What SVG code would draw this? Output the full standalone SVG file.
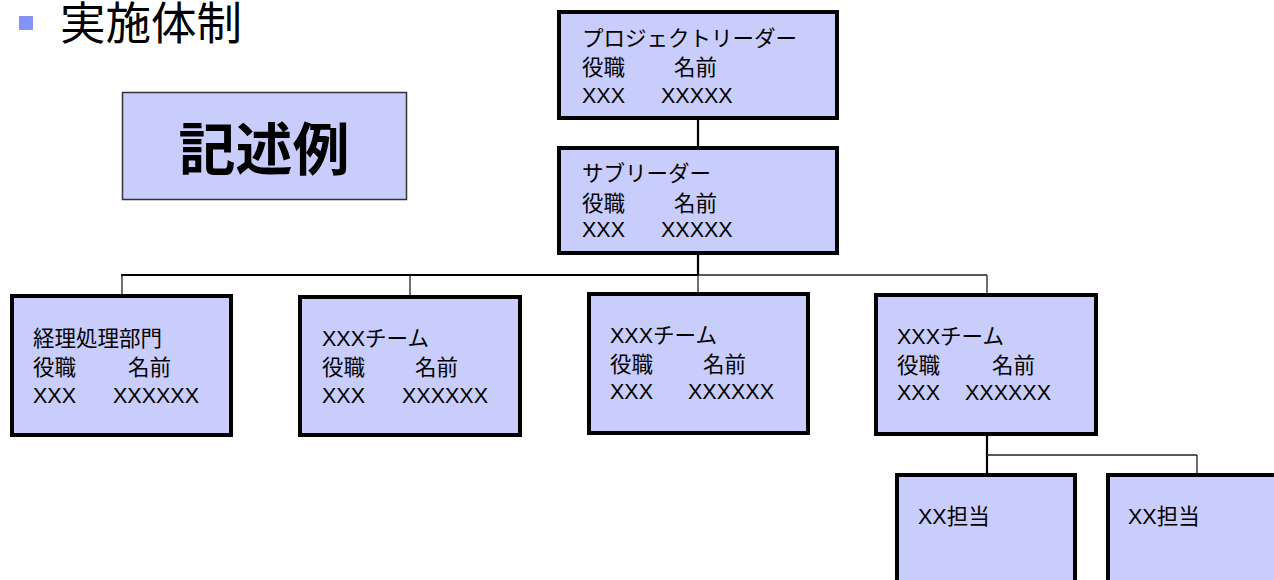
<svg xmlns="http://www.w3.org/2000/svg" width="1274" height="580" viewBox="0 0 1274 580">
<style>
.box{fill:#C9CDFB;stroke:#000;stroke-width:4}
.t{font-family:"Liberation Sans","Noto Sans CJK JP",sans-serif;font-size:21.5px;fill:#000}
.thick{stroke:#000;stroke-width:2.2;fill:none}
.thin{stroke:#222;stroke-width:1.3;fill:none}
</style>
<rect width="1274" height="580" fill="#fff"/>
<g id="header">
<rect x="19" y="16" width="14" height="14" fill="#8394F8"/>
<text x="60" y="40" font-family="'Liberation Sans','Noto Sans CJK JP',sans-serif" font-size="45.5" fill="#000">実施体制</text>
</g>
<g id="example">
<rect x="122.5" y="92.5" width="284" height="107" fill="#C9CDFB" stroke="#333" stroke-width="1.5"/>
<text x="264" y="170" text-anchor="middle" font-family="'Noto Sans CJK JP',sans-serif" font-weight="bold" font-size="57" fill="#000">記述例</text>
</g>
<g id="connectors">
<line class="thick" x1="698" y1="120" x2="698" y2="146"/>
<line class="thick" x1="698" y1="255" x2="698" y2="275"/>
<line class="thick" x1="121" y1="275" x2="698" y2="275"/>
<line class="thin" x1="698" y1="275" x2="987" y2="275"/>
<line class="thin" x1="122" y1="275" x2="122" y2="295"/>
<line class="thin" x1="410" y1="275" x2="410" y2="295"/>
<line class="thin" x1="698" y1="275" x2="698" y2="292"/>
<line class="thin" x1="987" y1="275" x2="987" y2="293"/>
<line class="thick" x1="987" y1="436" x2="987" y2="473"/>
<line class="thin" x1="987" y1="455" x2="1197" y2="455"/>
<line class="thin" x1="1197" y1="455" x2="1197" y2="473"/>
</g>
<g id="project-leader">
<rect class="box" x="559" y="12" width="278" height="106"/>
<text class="t" x="582" y="46">プロジェクトリーダー</text>
<text class="t" x="582" y="75">役職<tspan x="674">名前</tspan></text>
<text class="t" x="582" y="103">XXX<tspan x="661">XXXXX</tspan></text>
</g>
<g id="sub-leader">
<rect class="box" x="559" y="148" width="278" height="105"/>
<text class="t" x="582" y="181">サブリーダー</text>
<text class="t" x="582" y="211">役職<tspan x="674">名前</tspan></text>
<text class="t" x="582" y="237">XXX<tspan x="661">XXXXX</tspan></text>
</g>
<g id="accounting">
<rect class="box" x="12" y="296" width="219" height="139"/>
<text class="t" x="33" y="346">経理処理部門</text>
<text class="t" x="33" y="375">役職<tspan x="128">名前</tspan></text>
<text class="t" x="33" y="403">XXX<tspan x="113">XXXXXX</tspan></text>
</g>
<g id="team1">
<rect class="box" x="300" y="297" width="220" height="138"/>
<text class="t" x="322" y="346">XXXチーム</text>
<text class="t" x="322" y="375">役職<tspan x="415">名前</tspan></text>
<text class="t" x="322" y="403">XXX<tspan x="402">XXXXXX</tspan></text>
</g>
<g id="team2">
<rect class="box" x="589" y="294" width="219" height="139"/>
<text class="t" x="610" y="343">XXXチーム</text>
<text class="t" x="610" y="372">役職<tspan x="703">名前</tspan></text>
<text class="t" x="610" y="399">XXX<tspan x="688">XXXXXX</tspan></text>
</g>
<g id="team3">
<rect class="box" x="876" y="295" width="220" height="139"/>
<text class="t" x="897" y="344">XXXチーム</text>
<text class="t" x="897" y="373">役職<tspan x="992">名前</tspan></text>
<text class="t" x="897" y="400">XXX<tspan x="965">XXXXXX</tspan></text>
</g>
<g id="xx1">
<rect class="box" x="897" y="475" width="178" height="120"/>
<text class="t" x="918" y="524">XX担当</text>
</g>
<g id="xx2">
<rect class="box" x="1108" y="475" width="180" height="120"/>
<text class="t" x="1128" y="524">XX担当</text>
</g>
</svg>
